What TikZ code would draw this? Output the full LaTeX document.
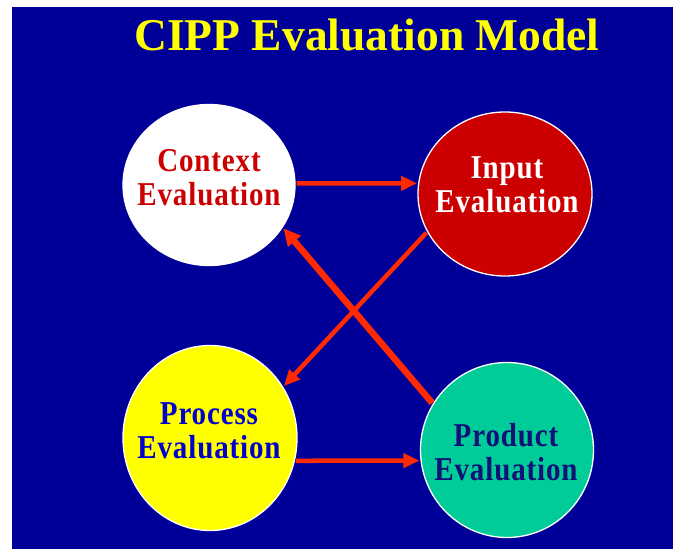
\documentclass[tikz,border=0pt]{standalone}
\usepackage{fontspec}
\setmainfont{Liberation Serif}
\newfontfamily\cippfont[LetterSpace=3]{Liberation Serif}
\usetikzlibrary{shapes.geometric,arrows.meta}
\definecolor{bgblue}{HTML}{000099}
\definecolor{ttlyellow}{HTML}{FFFF00}
\definecolor{ctxred}{HTML}{CC0000}
\definecolor{inpred}{HTML}{CC0000}
\definecolor{procyellow}{HTML}{FFFF00}
\definecolor{procblue}{HTML}{0000CC}
\definecolor{prodgreen}{HTML}{00CC99}
\definecolor{prodnavy}{HTML}{111177}
\definecolor{arrred}{HTML}{FF2A00}
\newcommand{\cipplabel}[2]{\scalebox{1}[1.15]{\cippfont\fontsize{29}{28.7}\selectfont\bfseries\begin{tabular}[b]{@{}c@{}}#1\\#2\end{tabular}}}
\tikzset{
  stage/.style={ellipse, draw=white, line width=1.3pt, inner sep=0pt},
  stagetext/.style={anchor=base, inner sep=0pt},
  flow/.style={draw=arrred, line width=4.5pt, -{Triangle[length=16pt,width=14pt]}, shorten <=1pt, shorten >=1pt},
  flowthick/.style={flow, line width=6.5pt, -{Triangle[length=17pt,width=16pt]}}
}
\begin{document}
\begin{tikzpicture}[x=1pt,y=-1pt]
\useasboundingbox (0,0) rectangle (673,549);
\fill[white] (0,0) rectangle (673,549);
\fill[bgblue] (12,7) rectangle (673,549);
\node[anchor=base, inner sep=0pt, text=ttlyellow, font=\fontsize{45.5}{50}\selectfont\bfseries] (title) at (367,50) {CIPP Evaluation Model};
\node[stage, fill=white, minimum width=172pt, minimum height=161pt] (ctx) at (209,185) {};
\node[stage, fill=inpred, minimum width=174pt, minimum height=164pt] (inp) at (505,194) {};
\node[stage, fill=procyellow, minimum width=174pt, minimum height=185pt] (proc) at (210,438) {};
\node[stage, fill=prodgreen, minimum width=173pt, minimum height=175pt] (prod) at (507,450) {};
\node[stagetext, text=ctxred] (ctxT) at (209,205) {\cipplabel{Context}{Evaluation}};
\node[stagetext, text=white] (inpT) at (507,212) {\cipplabel{Input}{Evaluation}};
\node[stagetext, text=procblue] (procT) at (209,458) {\cipplabel{Process}{Evaluation}};
\node[stagetext, text=prodnavy] (prodT) at (506,480) {\cipplabel{Product}{Evaluation}};
\draw[flow] (ctx.1) -- (inp.173);
\draw[flow] (proc.345) -- (prod.187);
\draw[flow] (inp.206) -- (proc.35);
\draw[flowthick] (prod.148) -- (ctx.330);
\end{tikzpicture}
\end{document}
